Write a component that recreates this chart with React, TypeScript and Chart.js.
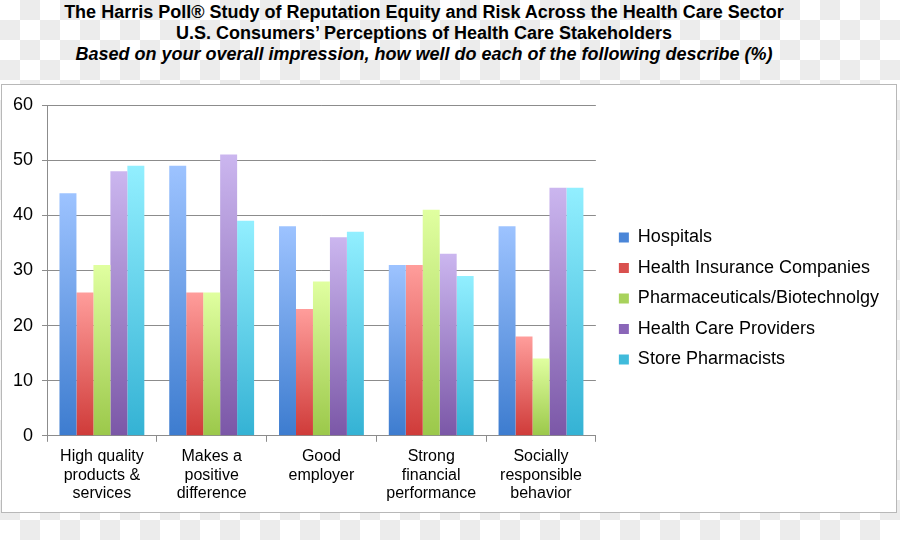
import React, { useEffect, useRef } from "react";
import { Chart, registerables } from "chart.js";

Chart.register(...registerables);

const categories: string[][] = [
  ["High quality", "products &", "services"],
  ["Makes a", "positive", "difference"],
  ["Good", "employer"],
  ["Strong", "financial", "performance"],
  ["Socially", "responsible", "behavior"],
];

const seriesNames = [
  "Hospitals",
  "Health Insurance Companies",
  "Pharmaceuticals/Biotechnolgy",
  "Health Care Providers",
  "Store Pharmacists",
];

const hospitals = [44, 49, 38, 31, 38];
const insurance = [26, 26, 23, 31, 18];
const pharma = [31, 26, 28, 41, 14];
const providers = [48, 51, 36, 33, 45];
const pharmacists = [49, 39, 37, 29, 45];

const yTicks = [0, 10, 20, 30, 40, 50, 60];

const topColors = ["#9dc3ff", "#ff9d9b", "#e0ffa0", "#cbb6ef", "#92efff"];
const bottomColors = ["#3d7ccf", "#cf3b39", "#9bc84a", "#7b57a7", "#34b2d4"];
const legendColors = ["#4a86d8", "#d9504e", "#a8d25c", "#8a66b8", "#40bbdb"];

const titleLines = [
  "The Harris Poll® Study of Reputation Equity and Risk Across the Health Care Sector",
  "U.S. Consumers’ Perceptions of Health Care Stakeholders",
];
const subtitleLine = "Based on your overall impression, how well do each of the following describe (%)";

const SANS = '"Liberation Sans", Arial, sans-serif';

export default function App() {
  const ref = useRef<HTMLCanvasElement | null>(null);

  useEffect(() => {
    if (!ref.current) return;
    const values = [hospitals, insurance, pharma, providers, pharmacists];
    const gradientFor = (i: number) => (ctx: any) => {
      const chart = ctx.chart;
      const y = chart.scales && chart.scales.y;
      if (ctx.type !== "data" || !y || !chart.chartArea) return legendColors[i];
      const top = y.getPixelForValue(ctx.raw);
      const base = y.getPixelForValue(0);
      if (!isFinite(top) || !isFinite(base) || top === base) return legendColors[i];
      const g = chart.ctx.createLinearGradient(0, top, 0, base);
      g.addColorStop(0, topColors[i]);
      g.addColorStop(1, bottomColors[i]);
      return g;
    };

    const chart = new Chart(ref.current, {
      type: "bar",
      data: {
        labels: categories,
        datasets: seriesNames.map((name, i) => ({
          label: name,
          data: values[i],
          backgroundColor: gradientFor(i),
          borderWidth: 0,
          categoryPercentage: 0.773,
          barPercentage: 1,
          yAxisID: "y",
        })),
      },
      options: {
        animation: false,
        responsive: false,
        devicePixelRatio: 1,
        layout: { padding: { top: 3, bottom: 3, left: 2, right: 7 } },
        plugins: {
          title: { display: true, text: "", padding: 0, font: { size: 17, lineHeight: 1 } },
          tooltip: { enabled: false },
          legend: {
            position: "right",
            align: "center",
            maxWidth: 320,
            labels: {
              boxWidth: 10,
              boxHeight: 10,
              padding: 12.5,
              color: "#000",
              font: { family: SANS, size: 18 },
              generateLabels: () =>
                seriesNames.map((name, i) => ({
                  text: name,
                  fillStyle: legendColors[i],
                  strokeStyle: legendColors[i],
                  lineWidth: 0,
                  hidden: false,
                  datasetIndex: i,
                })),
            },
          },
        },
        scales: {
          x: {
            grid: {
              display: true,
              drawOnChartArea: false,
              drawTicks: true,
              tickLength: 6,
              color: "#8c8c8c",
            },
            border: { display: true, color: "#8c8c8c", width: 1 },
            ticks: {
              color: "#000",
              padding: 6,
              maxRotation: 0,
              autoSkip: false,
              font: { family: SANS, size: 16, lineHeight: 1.15 },
            },
            afterFit: (scale: any) => {
              scale.paddingLeft = 0;
              scale.paddingRight = 0;
            },
          },
          y: {
            min: 0,
            max: 60,
            afterBuildTicks: (scale: any) => {
              scale.ticks = yTicks.map((v) => ({ value: v }));
            },
            grid: { color: "#8c8c8c", tickLength: 5, lineWidth: 1 },
            border: { display: true, color: "#8c8c8c", width: 1 },
            ticks: {
              color: "#000",
              padding: 9,
              font: { family: SANS, size: 18 },
            },
          },
          gap: {
            position: "right",
            display: true,
            grid: { display: false, drawTicks: false },
            border: { display: false },
            ticks: { display: false },
            afterFit: (scale: any) => {
              scale.width = 10.5;
            },
          },
        },
      } as any,
    });
    return () => chart.destroy();
  }, []);

  return (
    <div
      style={{
        position: "absolute",
        left: 0,
        top: 0,
        width: 900,
        height: 540,
        overflow: "hidden",
        backgroundColor: "#fff",
        backgroundImage:
          "conic-gradient(#ececec 0 25%, #ffffff 0 50%, #ececec 0 75%, #ffffff 0 100%)",
        backgroundSize: "40px 40px",
      }}
    >
      <div
        style={{
          position: "absolute",
          left: 0,
          top: 2,
          width: 848,
          textAlign: "center",
          fontFamily: SANS,
          fontWeight: "bold",
          fontSize: 18,
          lineHeight: "21px",
          color: "#000",
        }}
      >
        <div>{titleLines[0]}</div>
        <div>{titleLines[1]}</div>
        <div style={{ fontStyle: "italic" }}>{subtitleLine}</div>
      </div>
      <div
        style={{
          position: "absolute",
          left: 1,
          top: 84,
          width: 894,
          height: 427,
          border: "1px solid #b8b8b8",
          background: "#fff",
        }}
      >
        <canvas ref={ref} width={894} height={427} style={{ display: "block" }} />
      </div>
    </div>
  );
}
